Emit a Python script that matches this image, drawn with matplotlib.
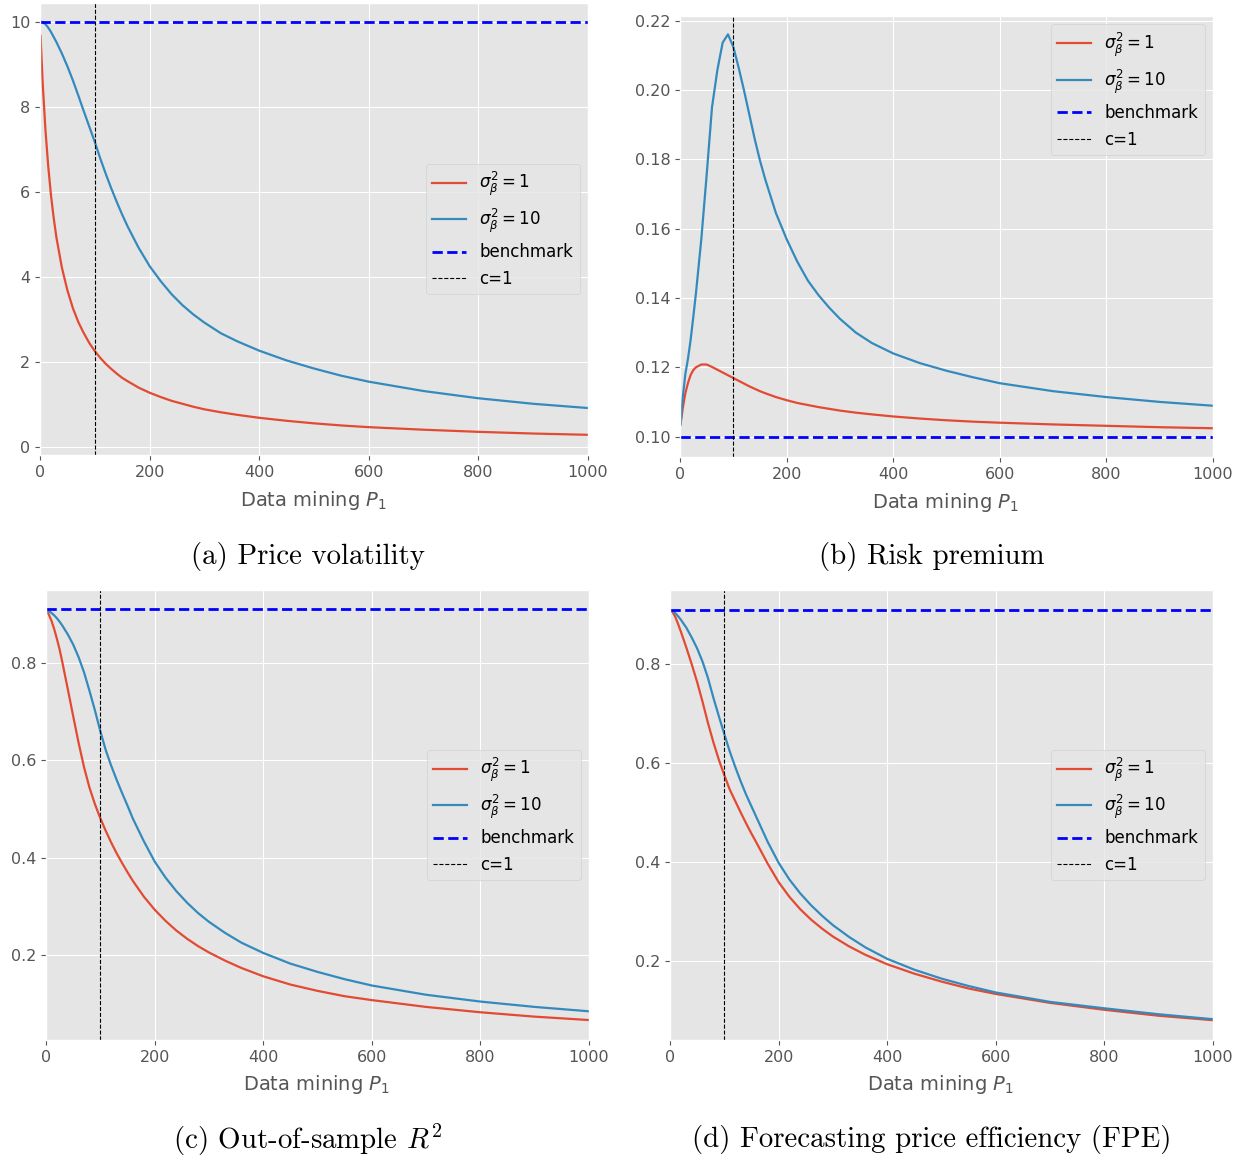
import matplotlib
matplotlib.use("Agg")
import matplotlib.pyplot as plt

plt.style.use("ggplot")

# ---------------- data ----------------
P = [1, 5, 10, 15, 20, 25, 30, 40, 50, 60, 70, 80, 90, 100, 110, 120, 130, 140,
     150, 160, 180, 200, 220, 240, 260, 280, 300, 330, 360, 400, 450, 500, 550,
     600, 700, 800, 900, 1000]

vol_s1 = [9.67, 8.53, 7.44, 6.60, 5.92, 5.38, 4.92, 4.21, 3.68, 3.26, 2.93,
          2.67, 2.44, 2.25, 2.09, 1.95, 1.83, 1.72, 1.62, 1.54, 1.39, 1.27,
          1.17, 1.08, 1.01, 0.94, 0.88, 0.81, 0.75, 0.68, 0.61, 0.55, 0.50,
          0.46, 0.40, 0.35, 0.31, 0.28]
vol_s10 = [10.0, 9.99, 9.94, 9.86, 9.76, 9.64, 9.52, 9.25, 8.95, 8.62, 8.26,
           7.89, 7.53, 7.17, 6.78, 6.42, 6.08, 5.76, 5.46, 5.18, 4.68, 4.25,
           3.90, 3.59, 3.33, 3.11, 2.92, 2.67, 2.48, 2.26, 2.03, 1.84, 1.67,
           1.53, 1.31, 1.14, 1.01, 0.91]
vol_bench = 10.0

rp_s1 = [0.1035, 0.108, 0.1125, 0.1155, 0.1178, 0.1192, 0.1200, 0.1208, 0.1208,
         0.1201, 0.1193, 0.1185, 0.1177, 0.1169, 0.1161, 0.1153, 0.1145, 0.1138,
         0.1131, 0.1125, 0.1114, 0.1105, 0.1097, 0.1091, 0.1085, 0.1080, 0.1075,
         0.1069, 0.1064, 0.1058, 0.1052, 0.1047, 0.1043, 0.1040, 0.1035, 0.1031,
         0.1027, 0.1024]
rp_s10 = [0.1035, 0.111, 0.118, 0.1225, 0.128, 0.1346, 0.1415, 0.157, 0.1755,
          0.195, 0.2057, 0.2137, 0.2161, 0.2125, 0.2065, 0.200, 0.193, 0.186,
          0.1797, 0.1742, 0.1645, 0.157, 0.1505, 0.1450, 0.1408, 0.1372, 0.1340,
          0.1300, 0.1270, 0.1240, 0.1212, 0.1190, 0.1171, 0.1154, 0.1131,
          0.1114, 0.1100, 0.1089]
rp_bench = 0.10

r2_s1 = [0.908, 0.900, 0.887, 0.870, 0.850, 0.828, 0.802, 0.747, 0.691, 0.636,
         0.586, 0.544, 0.510, 0.481, 0.455, 0.431, 0.409, 0.389, 0.370, 0.352,
         0.320, 0.293, 0.270, 0.250, 0.233, 0.218, 0.205, 0.188, 0.173, 0.156,
         0.139, 0.126, 0.115, 0.107, 0.093, 0.082, 0.073, 0.066]
r2_s10 = [0.909, 0.907, 0.903, 0.898, 0.892, 0.885, 0.877, 0.859, 0.838, 0.812,
          0.781, 0.743, 0.703, 0.660, 0.621, 0.589, 0.560, 0.533, 0.507, 0.480,
          0.434, 0.392, 0.359, 0.331, 0.307, 0.286, 0.268, 0.245, 0.225, 0.204,
          0.182, 0.165, 0.150, 0.137, 0.118, 0.104, 0.093, 0.084]
r2_bench = 0.91

fpe_s1 = [0.908, 0.905, 0.895, 0.881, 0.866, 0.850, 0.834, 0.800, 0.764, 0.724,
          0.681, 0.642, 0.607, 0.576, 0.547, 0.524, 0.501, 0.479, 0.458, 0.438,
          0.397, 0.360, 0.330, 0.305, 0.284, 0.266, 0.250, 0.230, 0.213, 0.194,
          0.175, 0.159, 0.145, 0.134, 0.116, 0.102, 0.090, 0.081]
fpe_s10 = [0.909, 0.907, 0.903, 0.897, 0.890, 0.882, 0.874, 0.854, 0.832, 0.805,
           0.772, 0.732, 0.695, 0.659, 0.624, 0.593, 0.564, 0.537, 0.513, 0.489,
           0.441, 0.399, 0.365, 0.337, 0.313, 0.292, 0.273, 0.249, 0.228, 0.205,
           0.183, 0.165, 0.150, 0.137, 0.118, 0.105, 0.093, 0.083]
fpe_bench = 0.91

c1_P = 100

captions = ["(a) Price volatility", "(b) Risk premium",
            "(c) Out-of-sample $R^2$", "(d) Forecasting price efficiency (FPE)"]
xlabel = "Data mining $P_1$"
labels = [r"$\sigma_\beta^2 = 1$", r"$\sigma_\beta^2 = 10$", "benchmark", "c=1"]

# ---------------- layout ----------------
W, H = 1245, 1161
fig = plt.figure(figsize=(W / 100, H / 100), dpi=100)


def box(l, r, t, b):
    return [l / W, (H - b) / H, (r - l) / W, (b - t) / H]


panels = [
    (box(40, 588, 3, 455), vol_s1, vol_s10, vol_bench, (-0.195, 10.44),
     "center right", (314, 500), (308, 556)),
    (box(680, 1213, 16, 457), rp_s1, rp_s10, rp_bench, (0.0941, 0.2214),
     "upper right", (946, 502), (932, 556)),
    (box(46, 589, 590, 1040), r2_s1, r2_s10, r2_bench, (0.025, 0.950),
     "center right", (317, 1085), (308, 1140)),
    (box(670, 1213, 590, 1040), fpe_s1, fpe_s10, fpe_bench, (0.041, 0.950),
     "center right", (941, 1085), (932, 1140)),
]

for i, (rect, s1, s10, bench, ylim, loc, xlpos, cappos) in enumerate(panels):
    ax = fig.add_axes(rect)
    ax.plot(P, s1, color="#E24A33", lw=1.6, label=labels[0])
    ax.plot(P, s10, color="#348ABD", lw=1.6, label=labels[1])
    ax.axhline(bench, color="blue", ls="--", lw=2, label=labels[2])
    ax.axvline(c1_P, color="black", ls="--", lw=0.8, label=labels[3])
    ax.set_xlim(0, 1000)
    ax.set_ylim(*ylim)
    ax.set_xticks([0, 200, 400, 600, 800, 1000])
    ax.tick_params(labelsize=11.5, colors="#555555")
    ax.legend(loc=loc, fontsize=12)
    fig.text(xlpos[0] / W, 1 - xlpos[1] / H, xlabel, ha="center", va="center",
             fontsize=14, color="#555555")
    fig.text(cappos[0] / W, 1 - cappos[1] / H, captions[i], ha="center",
             va="center", fontsize=20.8, family="cmr10", math_fontfamily="cm")

fig.savefig("out.png", dpi=100)
